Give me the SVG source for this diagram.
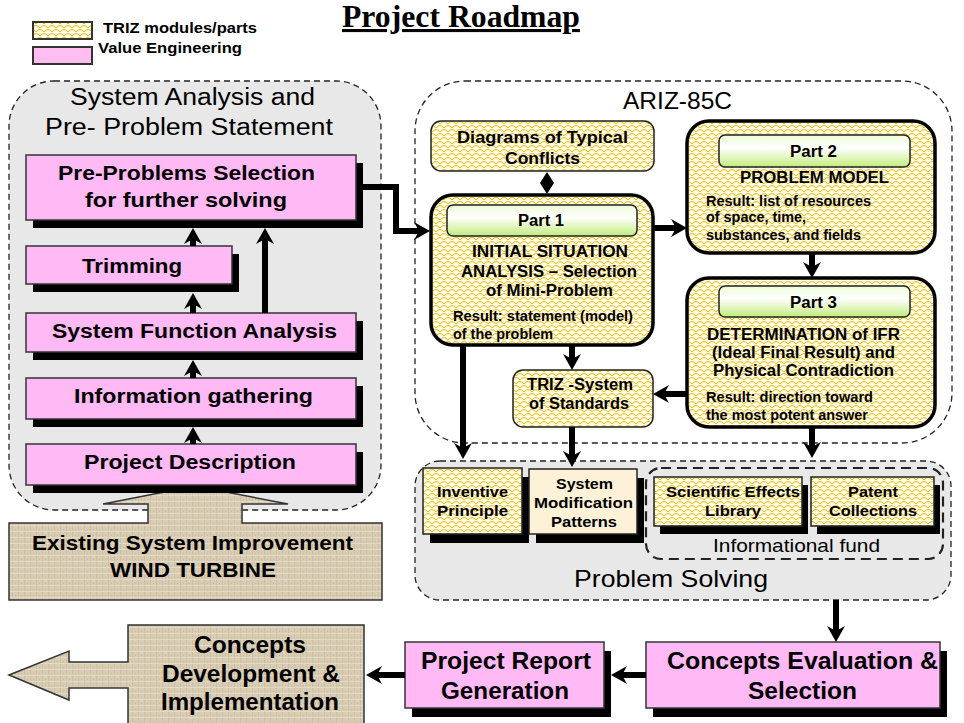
<svg xmlns="http://www.w3.org/2000/svg" width="964" height="723" viewBox="0 0 964 723">
<defs>
<pattern id="triz" patternUnits="userSpaceOnUse" width="8" height="8">
<rect width="8" height="8" fill="#fffbe6"/>
<path d="M0,4 Q4,-1 8,4 M-4,8 Q0,3 4,8 M4,8 Q8,3 12,8" fill="none" stroke="#e8bc10" stroke-width="1"/>
</pattern>
<pattern id="tan" patternUnits="userSpaceOnUse" width="6" height="6">
<rect width="6" height="6" fill="#d8ccb3"/>
<rect x="0" y="0" width="1" height="6" fill="#cdbfa3"/>
<rect x="0" y="3" width="6" height="1" fill="#e3d9c6"/>
<rect x="3" y="1" width="1" height="1" fill="#c6b89c"/>
</pattern>
<linearGradient id="hdr" x1="0" y1="0" x2="0" y2="1">
<stop offset="0" stop-color="#eefcd8"/>
<stop offset="0.4" stop-color="#ffffff"/>
<stop offset="1" stop-color="#c2ec7c"/>
</linearGradient>
<marker id="ah" viewBox="0 0 16 18" markerUnits="userSpaceOnUse" markerWidth="16" markerHeight="18" refX="5" refY="9" orient="auto">
<path d="M0,0 L16,9 L0,18 L5,9 Z" fill="#000"/>
</marker>
<style>
.t{font-family:"Liberation Sans",Arial,Helvetica,sans-serif;fill:#000}
.b{font-weight:bold}
.pink{fill:#ffb9f4;stroke:#333;stroke-width:1.5}
.sh{fill:#000}
.tz{fill:url(#triz);stroke:#222;stroke-width:1.5}
.part{fill:url(#triz);stroke:#000;stroke-width:3.5}
.hd{fill:url(#hdr);stroke:#222;stroke-width:1.5}
.panel{stroke:#222;stroke-width:1.3;stroke-dasharray:6,4}
.tanf{fill:url(#tan);stroke:#333;stroke-width:1.5}
.con{fill:none;stroke:#000;stroke-width:6;marker-end:url(#ah)}
</style>
</defs>
<rect width="964" height="723" fill="#fff"/>

<g id="legend">
<rect x="33" y="22" width="59" height="17" fill="url(#triz)" stroke="#333" stroke-width="2"/>
<rect x="33" y="47" width="59" height="17" fill="#ffbdf0" stroke="#333" stroke-width="2"/>
<text class="t b" x="103" y="33" font-size="15" textLength="154" lengthAdjust="spacingAndGlyphs">TRIZ modules/parts</text>
<text class="t b" x="98" y="53" font-size="15" textLength="144" lengthAdjust="spacingAndGlyphs">Value Engineering</text>
</g>
<g id="title">
<text x="342" y="27" font-family="'Liberation Serif','Times New Roman',serif" font-weight="bold" font-size="31" text-decoration="underline" textLength="238" lengthAdjust="spacingAndGlyphs">Project Roadmap</text>
</g>

<g id="panels">
<rect id="panel-system-analysis" class="panel" x="9" y="81" width="372" height="429" rx="45" fill="#e8e8e8"/>
<rect id="panel-ariz" class="panel" x="415" y="81" width="537" height="362" rx="50" fill="none"/>
<rect id="panel-problem-solving" class="panel" x="415" y="461" width="536" height="139" rx="25" fill="#e8e8e8"/>
<rect id="panel-info-fund" x="646" y="468" width="297" height="91" rx="15" fill="none" stroke="#222" stroke-width="2.2" stroke-dasharray="10,6"/>
</g>
<text class="t" x="70" y="105" font-size="23" textLength="245" lengthAdjust="spacingAndGlyphs">System Analysis and</text>
<text class="t" x="45" y="135" font-size="23" textLength="288" lengthAdjust="spacingAndGlyphs">Pre- Problem Statement</text>
<text class="t" x="623" y="109" font-size="24" textLength="109" lengthAdjust="spacingAndGlyphs">ARIZ-85C</text>
<text class="t" x="713" y="552" font-size="19" textLength="167" lengthAdjust="spacingAndGlyphs">Informational fund</text>
<text class="t" x="574" y="587" font-size="24" textLength="194" lengthAdjust="spacingAndGlyphs">Problem Solving</text>

<g id="existing-system">
<path class="tanf" d="M9,523 L148,523 L148,504 L103,504 L195,486 L288,504 L242,504 L242,523 L382,523 L382,600 L9,600 Z"/>
<text class="t b" x="32" y="550" font-size="20" textLength="321" lengthAdjust="spacingAndGlyphs">Existing System Improvement</text>
<text class="t b" x="110" y="577" font-size="20" textLength="166" lengthAdjust="spacingAndGlyphs">WIND TURBINE</text>
</g>

<g id="pre-problems">
<rect class="sh" x="33" y="163" width="330" height="65"/>
<rect class="pink" x="26" y="155" width="330" height="65"/>
<text class="t b" x="58" y="180" font-size="20" textLength="257" lengthAdjust="spacingAndGlyphs">Pre-Problems Selection</text>
<text class="t b" x="85" y="207" font-size="20" textLength="202" lengthAdjust="spacingAndGlyphs">for further solving</text>
</g>
<g id="trimming">
<rect class="sh" x="33" y="254" width="206" height="38"/>
<rect class="pink" x="26" y="246" width="206" height="38"/>
<text class="t b" x="82" y="273" font-size="20" textLength="100" lengthAdjust="spacingAndGlyphs">Trimming</text>
</g>
<g id="system-function">
<rect class="sh" x="33" y="321" width="330" height="39"/>
<rect class="pink" x="26" y="313" width="330" height="39"/>
<text class="t b" x="52" y="338" font-size="20" textLength="285" lengthAdjust="spacingAndGlyphs">System Function Analysis</text>
</g>
<g id="information">
<rect class="sh" x="33" y="386" width="330" height="41"/>
<rect class="pink" x="26" y="378" width="330" height="41"/>
<text class="t b" x="74" y="403" font-size="20" textLength="239" lengthAdjust="spacingAndGlyphs">Information gathering</text>
</g>
<g id="project-description">
<rect class="sh" x="33" y="452" width="330" height="41"/>
<rect class="pink" x="26" y="444" width="330" height="41"/>
<text class="t b" x="84" y="469" font-size="20" textLength="212" lengthAdjust="spacingAndGlyphs">Project Description</text>
</g>

<g id="diagrams">
<rect class="tz" x="431" y="121" width="223" height="50" rx="10"/>
<text class="t b" x="457" y="143" font-size="17" textLength="171" lengthAdjust="spacingAndGlyphs">Diagrams of Typical</text>
<text class="t b" x="505" y="164" font-size="17" textLength="75" lengthAdjust="spacingAndGlyphs">Conflicts</text>
</g>
<g id="part1">
<rect class="part" x="431" y="195" width="222" height="150" rx="22"/>
<rect class="hd" x="447" y="205" width="190" height="31" rx="6"/>
<text class="t b" x="518" y="226" font-size="16" textLength="46" lengthAdjust="spacingAndGlyphs">Part 1</text>
<text class="t b" x="472" y="257" font-size="16" textLength="156" lengthAdjust="spacingAndGlyphs">INITIAL SITUATION</text>
<text class="t b" x="461" y="277" font-size="16" textLength="176" lengthAdjust="spacingAndGlyphs">ANALYSIS – Selection</text>
<text class="t b" x="486" y="296" font-size="16" textLength="127" lengthAdjust="spacingAndGlyphs">of Mini-Problem</text>
<text class="t b" x="453" y="321" font-size="14" textLength="180" lengthAdjust="spacingAndGlyphs">Result: statement (model)</text>
<text class="t b" x="453" y="339" font-size="14" textLength="100" lengthAdjust="spacingAndGlyphs">of the problem</text>
</g>
<g id="part2">
<rect class="part" x="687" y="121" width="248" height="132" rx="22"/>
<rect class="hd" x="719" y="135" width="191" height="32" rx="6"/>
<text class="t b" x="790" y="157" font-size="16" textLength="47" lengthAdjust="spacingAndGlyphs">Part 2</text>
<text class="t b" x="740" y="183" font-size="16" textLength="149" lengthAdjust="spacingAndGlyphs">PROBLEM MODEL</text>
<text class="t b" x="706" y="206" font-size="14" textLength="165" lengthAdjust="spacingAndGlyphs">Result: list of resources</text>
<text class="t b" x="706" y="222" font-size="14" textLength="100" lengthAdjust="spacingAndGlyphs">of space, time,</text>
<text class="t b" x="706" y="240" font-size="14" textLength="155" lengthAdjust="spacingAndGlyphs">substances, and fields</text>
</g>
<g id="part3">
<rect class="part" x="687" y="278" width="248" height="149" rx="22"/>
<rect class="hd" x="719" y="286" width="191" height="31" rx="6"/>
<text class="t b" x="790" y="308" font-size="16" textLength="47" lengthAdjust="spacingAndGlyphs">Part 3</text>
<text class="t b" x="707" y="340" font-size="16" textLength="193" lengthAdjust="spacingAndGlyphs">DETERMINATION of IFR</text>
<text class="t b" x="712" y="358" font-size="16" textLength="183" lengthAdjust="spacingAndGlyphs">(Ideal Final Result) and</text>
<text class="t b" x="713" y="376" font-size="16" textLength="181" lengthAdjust="spacingAndGlyphs">Physical Contradiction</text>
<text class="t b" x="706" y="402" font-size="14" textLength="167" lengthAdjust="spacingAndGlyphs">Result: direction toward</text>
<text class="t b" x="706" y="420" font-size="14" textLength="162" lengthAdjust="spacingAndGlyphs">the most potent answer</text>
</g>
<g id="triz-standards">
<rect class="tz" x="513" y="370" width="140" height="57" rx="10"/>
<text class="t b" x="527" y="390" font-size="16" textLength="106" lengthAdjust="spacingAndGlyphs">TRIZ -System</text>
<text class="t b" x="529" y="409" font-size="16" textLength="100" lengthAdjust="spacingAndGlyphs">of Standards</text>
</g>

<g id="inventive">
<rect class="sh" x="430" y="477" width="99" height="66"/>
<rect class="tz" x="423" y="468" width="99" height="66"/>
<text class="t b" x="437" y="497" font-size="15" textLength="71" lengthAdjust="spacingAndGlyphs">Inventive</text>
<text class="t b" x="437" y="516" font-size="15" textLength="71" lengthAdjust="spacingAndGlyphs">Principle</text>
</g>
<g id="modification">
<rect class="sh" x="536" y="478" width="108" height="65"/>
<rect x="529" y="469" width="108" height="65" fill="#fdf2d8" stroke="#222" stroke-width="1.5"/>
<text class="t b" x="556" y="489" font-size="15" textLength="57" lengthAdjust="spacingAndGlyphs">System</text>
<text class="t b" x="534" y="508" font-size="15" textLength="99" lengthAdjust="spacingAndGlyphs">Modification</text>
<text class="t b" x="551" y="527" font-size="15" textLength="66" lengthAdjust="spacingAndGlyphs">Patterns</text>
</g>
<g id="effects">
<rect class="sh" x="660" y="485" width="148" height="49"/>
<rect class="tz" x="654" y="477" width="148" height="49"/>
<text class="t b" x="666" y="497" font-size="15" textLength="134" lengthAdjust="spacingAndGlyphs">Scientific Effects</text>
<text class="t b" x="705" y="516" font-size="15" textLength="56" lengthAdjust="spacingAndGlyphs">Library</text>
</g>
<g id="patent">
<rect class="sh" x="817" y="485" width="123" height="49"/>
<rect class="tz" x="811" y="477" width="123" height="49"/>
<text class="t b" x="848" y="497" font-size="15" textLength="50" lengthAdjust="spacingAndGlyphs">Patent</text>
<text class="t b" x="829" y="516" font-size="15" textLength="88" lengthAdjust="spacingAndGlyphs">Collections</text>
</g>

<g id="evaluation">
<rect class="sh" x="653" y="651" width="294" height="66"/>
<rect class="pink" x="646" y="642" width="294" height="66"/>
<text class="t b" x="667" y="669" font-size="23" textLength="271" lengthAdjust="spacingAndGlyphs">Concepts Evaluation &amp;</text>
<text class="t b" x="748" y="699" font-size="23" textLength="109" lengthAdjust="spacingAndGlyphs">Selection</text>
</g>
<g id="report">
<rect class="sh" x="412" y="651" width="199" height="66"/>
<rect class="pink" x="405" y="642" width="199" height="66"/>
<text class="t b" x="421" y="669" font-size="23" textLength="170" lengthAdjust="spacingAndGlyphs">Project Report</text>
<text class="t b" x="441" y="699" font-size="23" textLength="128" lengthAdjust="spacingAndGlyphs">Generation</text>
</g>
<g id="development">
<path class="tanf" d="M9,675 L69,651 L69,662 L128,662 L128,625 L364,625 L364,730 L128,730 L128,688 L69,688 L69,700 Z"/>
<text class="t b" x="194" y="653" font-size="23" textLength="112" lengthAdjust="spacingAndGlyphs">Concepts</text>
<text class="t b" x="162" y="682" font-size="23" textLength="178" lengthAdjust="spacingAndGlyphs">Development &amp;</text>
<text class="t b" x="161" y="710" font-size="23" textLength="178" lengthAdjust="spacingAndGlyphs">Implementation</text>
</g>

<g id="connectors">
<path class="con" d="M193,444 L193,438"/>
<path class="con" d="M193,378 L193,371"/>
<path class="con" d="M193,313 L193,304"/>
<path class="con" d="M193,246 L193,239"/>
<path class="con" d="M265,313 L265,239"/>
<path class="con" d="M360,187 L396,187 L396,231 L419,231"/>
<path d="M547,172 L554,183 L547,194 L540,183 Z" fill="#000"/>
<path class="con" d="M653,228 L676,228"/>
<path class="con" d="M812,253 L812,267"/>
<path class="con" d="M572,345 L572,359"/>
<path class="con" d="M687,394 L664,394"/>
<path class="con" d="M463,345 L463,448"/>
<path class="con" d="M572,427 L572,456"/>
<path class="con" d="M812,427 L812,447"/>
<path class="con" d="M836,600 L836,631"/>
<path class="con" d="M646,675 L622,675"/>
<path class="con" d="M405,675 L377,675"/>
</g>
</svg>
